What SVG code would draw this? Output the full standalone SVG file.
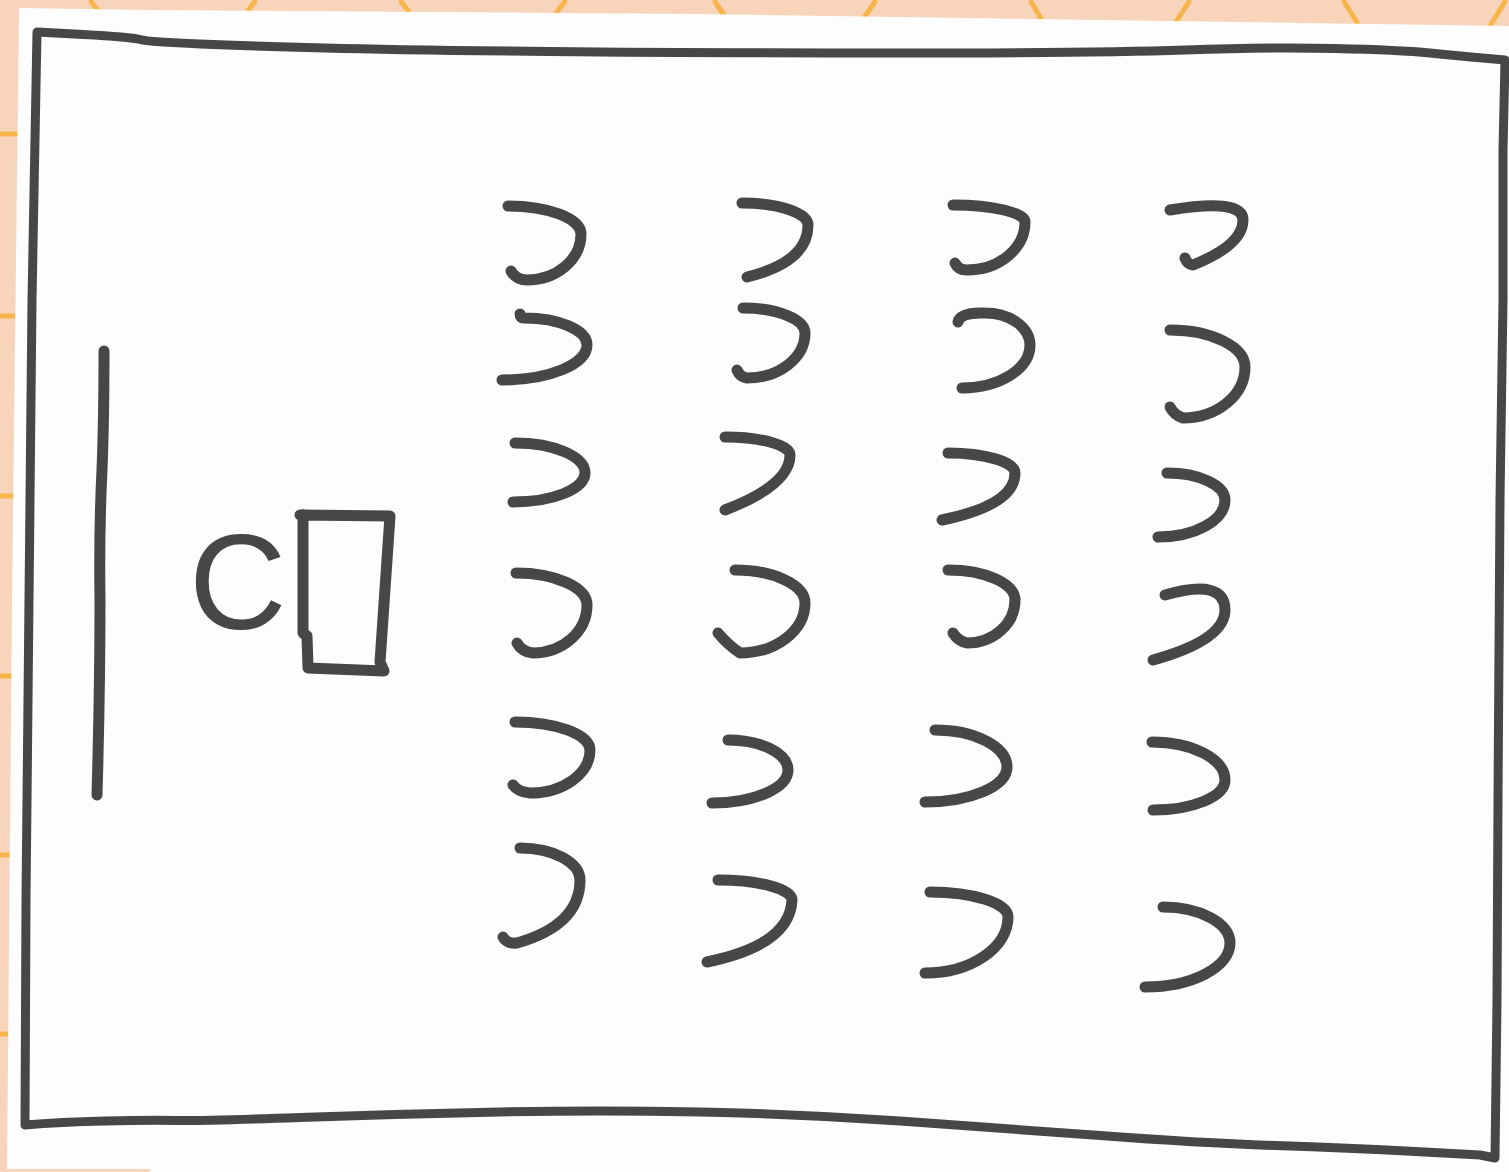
<svg xmlns="http://www.w3.org/2000/svg" width="1509" height="1172" viewBox="0 0 1509 1172">
  <style>
    .ink { fill: none; stroke: #474747; stroke-width: 11; stroke-linecap: round; stroke-linejoin: round; }
    .frame { stroke-width: 9; }
    .grid { fill: none; stroke: #f7b448; stroke-width: 5; }
    .label { font-family: "Liberation Sans", Arial, sans-serif; font-size: 135px; fill: #474747; }
  </style>
  <g id="background">
    <rect x="0" y="0" width="1509" height="1172" fill="#f8d4bb"/>
    <g class="grid">
      <line x1="90" y1="0" x2="102" y2="16"/>
      <line x1="256" y1="0" x2="244" y2="16"/>
      <line x1="400" y1="0" x2="412" y2="16"/>
      <line x1="566" y1="0" x2="554" y2="16"/>
      <line x1="714" y1="0" x2="726" y2="18"/>
      <line x1="876" y1="0" x2="864" y2="18"/>
      <line x1="1030" y1="0" x2="1042" y2="20"/>
      <line x1="1190" y1="0" x2="1176" y2="22"/>
      <line x1="1343" y1="0" x2="1358" y2="24"/>
      <line x1="1506" y1="0" x2="1490" y2="26"/>
      <line x1="0" y1="134" x2="20" y2="134"/>
      <line x1="0" y1="316" x2="20" y2="316"/>
      <line x1="0" y1="496" x2="20" y2="496"/>
      <line x1="0" y1="676" x2="20" y2="676"/>
      <line x1="0" y1="855" x2="20" y2="855"/>
      <line x1="0" y1="1034" x2="20" y2="1034"/>
    </g>
    <polygon points="19,8 150,10 700,14 1100,20 1509,26 1509,1172 150,1172 150,1169 7,1169 12,600" fill="#fdfdfd"/>
  </g>
  <g id="room-walls">
    <path class="ink frame" d="M37 32 L83.5 34.5 Q130 37 140 39.5 Q150 42 200 44 Q250 46 325 48 Q400 50 550 51.5 Q700 53 900 53 Q1100 53 1185 50 Q1270 47 1335 48.5 Q1400 50 1430 53 Q1460 56 1482.5 58 L1505 60 L1503 150 L1503 300 L1500 500 L1498 800 L1497 1000 L1495 1158 L1480 1155 L1415 1151.5 Q1350 1148 1275 1145.5 Q1200 1143 1100 1135.5 Q1000 1128 900 1121 Q800 1114 700 1112 Q600 1110 500 1112 Q400 1114 300 1117.5 Q200 1121 175 1120.5 Q150 1120 105 1121 Q60 1122 25 1125 L26 900 L29 600 L32 300 Z"/>
  </g>
  <g id="board">
    <path class="ink" stroke-width="8" d="M104 351 Q104 420 102 470 Q99 530 100 600 Q100 690 97 795"/>
  </g>
  <g id="teacher">
    <text class="label" x="189" y="629">C</text>
  </g>
  <g id="desk">
    <path class="ink" stroke-width="9" d="M300 515 L390 516 L380 662 L384 671 L308 668 L307 636 L303 633 L303 515"/>
  </g>
  <g id="chairs">
    <path id="chair-1-1" class="ink" d="M508 206 A73 28 0 0 1 581 234 A54 46 0 0 1 527 280 Q516 280 511 271"/>
    <path id="chair-1-2" class="ink" d="M520 314 Q520 318 524 318 A63 27 0 0 1 587 345 A85 35 0 0 1 502 380"/>
    <path id="chair-1-3" class="ink" d="M515 443 A70 30 0 0 1 585 473 A72 29 0 0 1 513 502"/>
    <path id="chair-1-4" class="ink" d="M516 573 A71 32 0 0 1 587 605 A54 48 0 0 1 533 653 Q522 652 517 643"/>
    <path id="chair-1-5" class="ink" d="M515 722 A75 28 0 0 1 590 750 A60 43 0 0 1 530 793 Q518 792 513 785"/>
    <path id="chair-1-6" class="ink" d="M520 848 A60 32 0 0 1 580 880 Q580 925 517 943 Q507 944 503 937"/>
    <path id="chair-2-1" class="ink" d="M742 203 A66 22 0 0 1 808 225 Q808 262 747 277"/>
    <path id="chair-2-2" class="ink" d="M743 308 A62 25 0 0 1 805 333 A58 45 0 0 1 747 378 Q740 377 737 370"/>
    <path id="chair-2-3" class="ink" d="M725 437 A65 18 0 0 1 790 455 Q790 485 725 510"/>
    <path id="chair-2-4" class="ink" d="M735 570 A70 33 0 0 1 805 603 A65 50 0 0 1 740 653 Q728 645 718 633"/>
    <path id="chair-2-5" class="ink" d="M728 740 A60 30 0 0 1 788 770 A76 33 0 0 1 712 803"/>
    <path id="chair-2-6" class="ink" d="M718 880 A74 20 0 0 1 792 900 Q790 945 707 962"/>
    <path id="chair-3-1" class="ink" d="M953 205 A72 17 0 0 1 1025 222 A58 48 0 0 1 967 270 Q958 270 955 263"/>
    <path id="chair-3-2" class="ink" d="M958 322 Q960 312 985 313 A45 32 0 0 1 1030 345 A68 43 0 0 1 962 388"/>
    <path id="chair-3-3" class="ink" d="M948 453 A67 20 0 0 1 1015 473 Q1015 505 942 520"/>
    <path id="chair-3-4" class="ink" d="M948 570 A67 30 0 0 1 1015 600 A48 43 0 0 1 967 643 Q958 641 953 633"/>
    <path id="chair-3-5" class="ink" d="M935 730 A72 37 0 0 1 1007 767 A82 35 0 0 1 925 802"/>
    <path id="chair-3-6" class="ink" d="M930 892 A78 25 0 0 1 1008 917 A83 56 0 0 1 925 973"/>
    <path id="chair-4-1" class="ink" d="M1170 210 Q1243 198 1243 220 Q1243 245 1193 265 Q1187 264 1185 258"/>
    <path id="chair-4-2" class="ink" d="M1170 330 A75 37 0 0 1 1245 367 A62 51 0 0 1 1183 418 Q1174 415 1170 407"/>
    <path id="chair-4-3" class="ink" d="M1167 473 A58 27 0 0 1 1225 500 A67 37 0 0 1 1158 537"/>
    <path id="chair-4-4" class="ink" d="M1165 595 Q1225 578 1225 610 Q1225 640 1153 660"/>
    <path id="chair-4-5" class="ink" d="M1152 742 A73 38 0 0 1 1225 780 A72 30 0 0 1 1153 810"/>
    <path id="chair-4-6" class="ink" d="M1163 907 A67 36 0 0 1 1230 943 A85 44 0 0 1 1145 987"/>
  </g>
</svg>
